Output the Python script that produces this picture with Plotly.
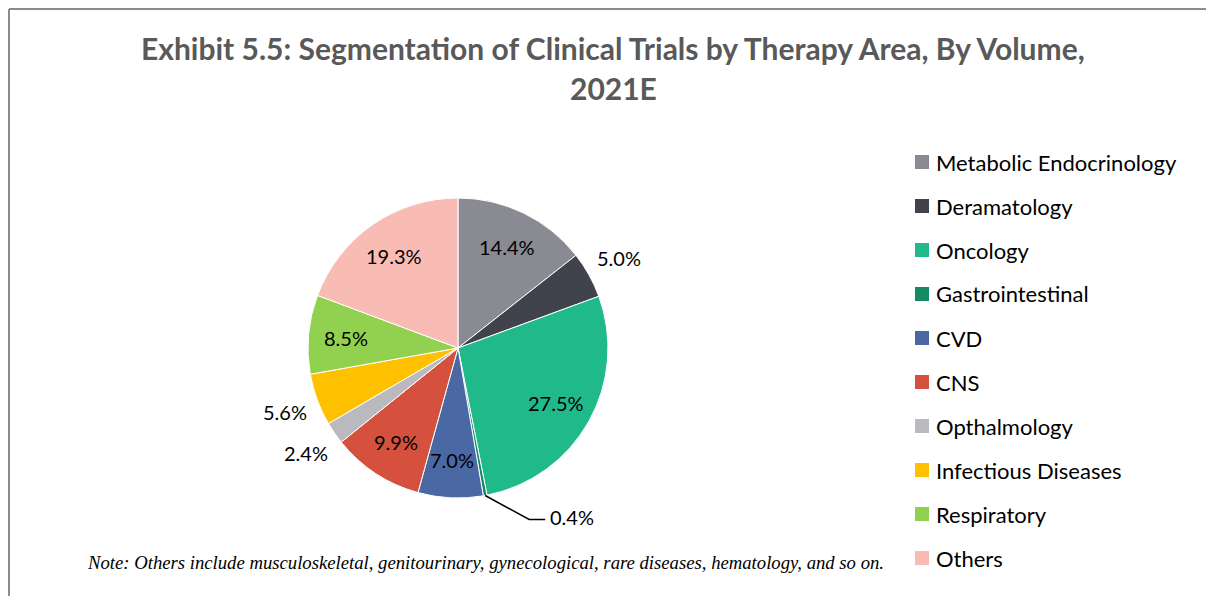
import math
import plotly.graph_objects as go

W, H = 1214, 596

categories = ["Metabolic Endocrinology", "Deramatology", "Oncology", "Gastrointestinal",
              "CVD", "CNS", "Opthalmology", "Infectious Diseases", "Respiratory", "Others"]
values = [14.4, 5.0, 27.5, 0.4, 7.0, 9.9, 2.4, 5.6, 8.5, 19.3]
colors = ["#8A8A92", "#40434B", "#20B98A", "#168A62", "#4A68A4",
          "#D6503E", "#B9B9BE", "#FFC000", "#92D050", "#F9BCB5"]
label_kind = ["inside", "outside", "inside", "leader", "inside",
              "inside", "outside", "outside", "inside", "inside"]
title_line1 = "Exhibit 5.5: Segmentation of Clinical Trials by Therapy Area, By Volume,"
title_line2 = "2021E"
note = "Note: Others include musculoskeletal, genitourinary, gynecological, rare diseases, hematology, and so on."

# page offset of the plot (body margin) -> convert page pixels to paper coords
OFF = 8

def px(x):
    return (x - OFF) / W

def py(y):
    return 1 - (y - OFF) / H

# pie geometry (page pixels)
cx, cy, R = 458, 348, 150
LBL_FONT = dict(family="Lato", size=20, color="#000000")

texts = [f"{v:.1f}%" for v in values]

fig = go.Figure()
fig.add_trace(go.Pie(
    labels=categories, values=values, sort=False, direction="clockwise", rotation=0,
    marker=dict(colors=colors, line=dict(color="white", width=1)),
    text=texts, textinfo="none",
    domain=dict(x=[px(cx - R), px(cx + R)], y=[py(cy + R), py(cy - R)]),
    showlegend=False, hoverinfo="label+percent",
))

shapes = []
annotations = []

# data labels positioned from the slice mid-angles
total = sum(values)
cum = 0.0
for v, t, kind in zip(values, texts, label_kind):
    mid = (cum + v / 2) / total * 2 * math.pi
    cum += v
    s, c = math.sin(mid), math.cos(mid)
    if kind == "inside":
        r = 0.75 * R
        annotations.append(dict(x=px(cx + r * s), y=py(cy - r * c), xref="paper", yref="paper",
                                text=t, showarrow=False, xanchor="center", yanchor="middle",
                                font=LBL_FONT))
    elif kind == "outside":
        r = 1.23 * R
        annotations.append(dict(x=px(cx + r * s), y=py(cy - r * c), xref="paper", yref="paper",
                                text=t, showarrow=False, xanchor="center", yanchor="middle",
                                font=LBL_FONT))
    else:
        x0 = cx + R * s
        y0 = cy - R * c
        x1, y1 = x0 + 44, y0 + 24
        x2 = x1 + 16
        shapes.append(dict(type="path", xref="paper", yref="paper",
                           path=f"M {px(x0)} {py(y0)} L {px(x1)} {py(y1)} L {px(x2)} {py(y1)}",
                           line=dict(color="black", width=1.5)))
        annotations.append(dict(x=px(x2 + 3), y=py(y1 - 3), xref="paper", yref="paper",
                                text=t, showarrow=False, xanchor="left", yanchor="middle",
                                font=LBL_FONT))

# legend (Excel-style spacing)
leg_x, leg_y0, leg_dy, sq = 915, 162, 44, 14
for i, (c, col) in enumerate(zip(categories, colors)):
    yc = leg_y0 + i * leg_dy
    shapes.append(dict(type="rect", xref="paper", yref="paper",
                       x0=px(leg_x), x1=px(leg_x + sq), y0=py(yc + sq / 2), y1=py(yc - sq / 2),
                       fillcolor=col, line=dict(width=0)))
    annotations.append(dict(x=px(leg_x + sq + 5), y=py(yc), xref="paper", yref="paper",
                            text=c, showarrow=False, xanchor="left", yanchor="middle",
                            font=dict(family="Lato", size=22, color="#000000")))

# title
annotations.append(dict(x=px(613), y=py(48), xref="paper", yref="paper", text=f"<b>{title_line1}</b>",
                        showarrow=False, xanchor="center", yanchor="middle",
                        font=dict(family="Lato", size=30, color="#595959")))
annotations.append(dict(x=px(613), y=py(88), xref="paper", yref="paper", text=f"<b>{title_line2}</b>",
                        showarrow=False, xanchor="center", yanchor="middle",
                        font=dict(family="Lato", size=30, color="#595959")))
# note
annotations.append(dict(x=px(485), y=py(562), xref="paper", yref="paper", text=f"<i>{note}</i>",
                        showarrow=False, xanchor="center", yanchor="middle",
                        font=dict(family="Liberation Serif", size=18.7, color="#000000")))

# frame
shapes.append(dict(type="line", xref="paper", yref="paper", x0=px(9), x1=1, y0=py(9), y1=py(9),
                   line=dict(color="#8C8C8C", width=2)))
shapes.append(dict(type="line", xref="paper", yref="paper", x0=px(9), x1=px(9), y0=py(9), y1=0,
                   line=dict(color="#8C8C8C", width=2)))

fig.update_layout(
    width=W, height=H, margin=dict(l=0, r=0, t=0, b=0),
    paper_bgcolor="white", plot_bgcolor="white",
    shapes=shapes, annotations=annotations, showlegend=False,
)
fig.write_html("out.html")
